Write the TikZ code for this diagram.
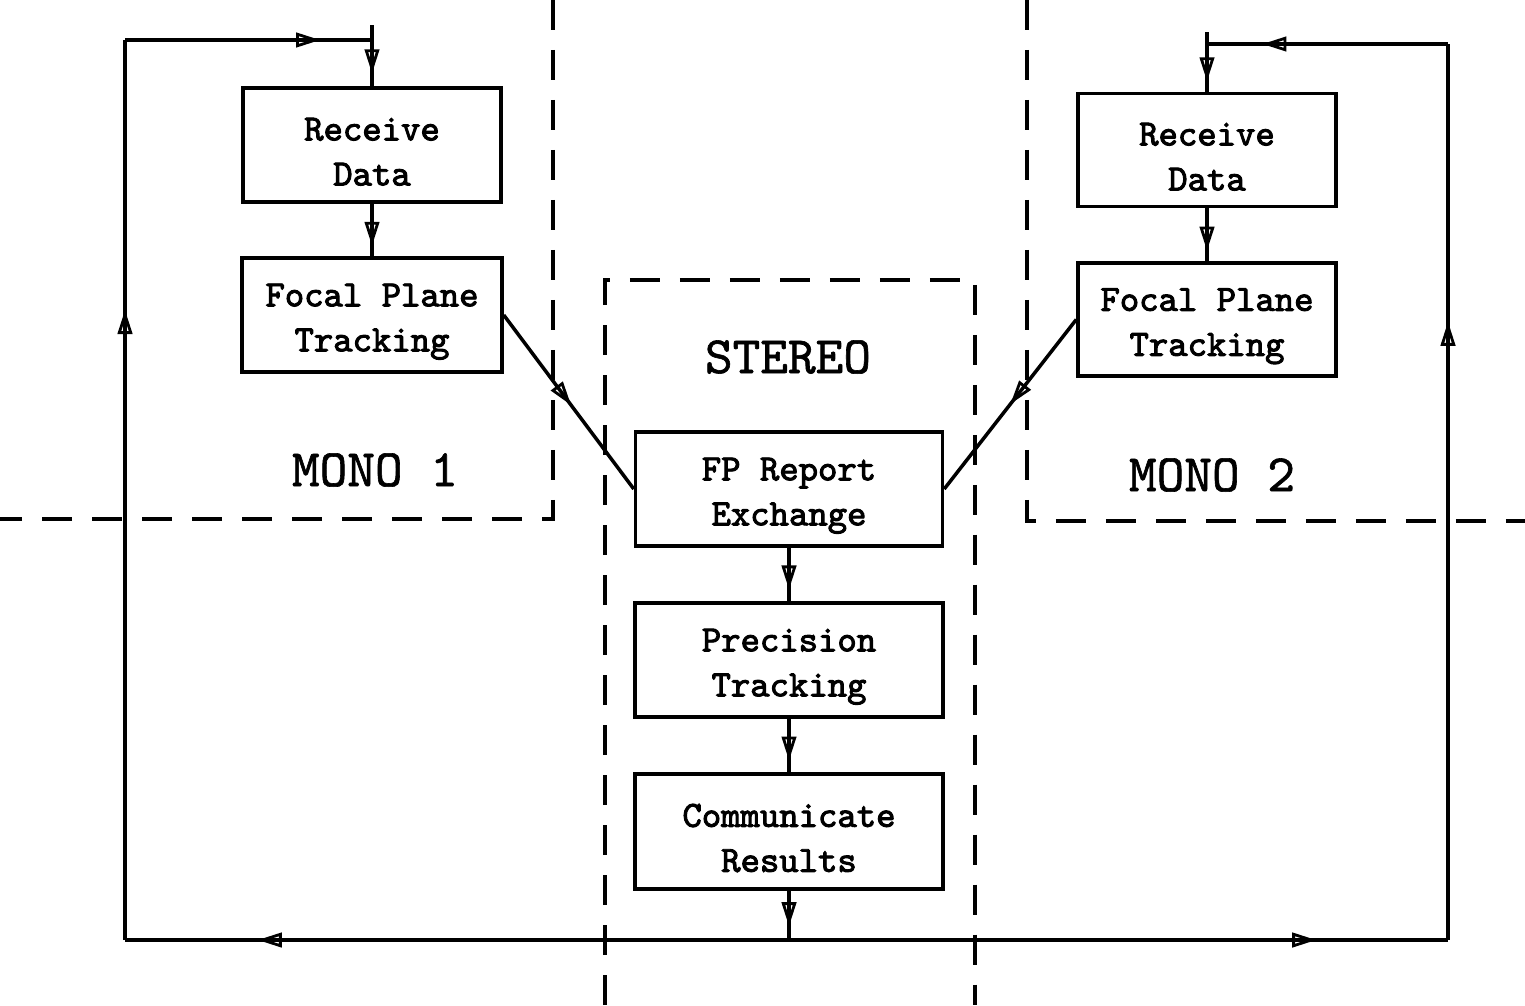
\documentclass[tikz,border=0pt]{standalone}
\usepackage{fontspec}
\newfontfamily\boxfont{lmmono10-regular.otf}[FakeBold=2.6]
\newfontfamily\labelfont{lmmono10-regular.otf}[FakeBold=1.2]
\usetikzlibrary{arrows.meta,decorations.markings}
\tikzset{
  oarr/.tip={Triangle[open,length=0.48cm,width=0.29cm,line width=1.6pt]},
  midarr/.style={postaction={decorate},decoration={markings,mark=at position #1 with {\arrow{oarr}}}},
  flow/.style={line width=2pt},
  procbox/.style={draw,line width=2pt,align=center,inner sep=0pt,
    font=\fontsize{21}{25.6}\selectfont\boxfont},
  region/.style={line width=2pt,dash pattern=on 0.6cm off 0.4cm},
  regionlabel/.style={font=\fontsize{30}{34}\selectfont\labelfont},
}
\newcommand{\tstrut}{\rule{0pt}{0.72cm}}
\begin{document}
\begin{tikzpicture}[x=0.02cm,y=-0.02cm]
\useasboundingbox (0,0) rectangle (1525,1005);
% region boundaries
\draw[region] (553,0) -- (553,519) -- (0,519);
\draw[region] (1027,0) -- (1027,521) -- (1525,521);
\draw[region] (605,1005) -- (605,280) -- (975,280) -- (975,1005);
% labels
\node[regionlabel] (stereo) at (788,357) {STEREO};
\node[regionlabel] (mono1) at (375,470) {MONO 1};
\node[regionlabel] (mono2) at (1212,475) {MONO 2};
% boxes
\node[procbox,minimum width=5.16cm,minimum height=2.28cm] (lrd) at (372,145) {\tstrut Receive\\Data};
\node[procbox,minimum width=5.20cm,minimum height=2.28cm] (lfp) at (372,315) {\tstrut Focal Plane\\Tracking};
\node[procbox,minimum width=5.16cm,minimum height=2.26cm] (rrd) at (1207,150) {\tstrut Receive\\Data};
\node[procbox,minimum width=5.16cm,minimum height=2.26cm] (rfp) at (1207,319.5) {\tstrut Focal Plane\\Tracking};
\node[procbox,minimum width=6.14cm,minimum height=2.28cm] (fpr) at (789,489) {\tstrut FP Report\\Exchange};
\node[procbox,minimum width=6.16cm,minimum height=2.28cm] (pre) at (789,660) {\tstrut Precision\\Tracking};
\node[procbox,minimum width=6.16cm,minimum height=2.30cm] (com) at (789,831.5) {\tstrut Communicate\\Results};
% loop coordinates
\coordinate (bmid) at (789,940);
\coordinate (bl) at (125,940);
\coordinate (tl) at (125,40);
\coordinate (tlj) at (372,40);
\coordinate (tlt) at (372,25);
\coordinate (br) at (1448,940);
\coordinate (tr) at (1448,44);
\coordinate (trj) at (1207,44);
\coordinate (trt) at (1207,32);
% connectors
\draw[flow,midarr=0.8] (lrd.south) -- (lfp.north);
\draw[flow,midarr=0.8] (rrd.south) -- (rfp.north);
\draw[flow,midarr=0.52] (lfp.east) -- (fpr.west);
\draw[flow,midarr=0.5] (rfp.west) -- (fpr.east);
\draw[flow,midarr=0.78] (fpr.south) -- (pre.north);
\draw[flow,midarr=0.78] (pre.south) -- (com.north);
\draw[flow,midarr=0.72] (com.south) -- (bmid);
\draw[flow,midarr=0.8] (bmid) -- (bl);
\draw[flow,midarr=0.7] (bl) -- (tl);
\draw[flow,midarr=0.79] (tl) -- (tlj);
\draw[flow] (tlt) -- (tlj);
\draw[flow,midarr=0.72] (tlj) -- (lrd.north);
\draw[flow,midarr=0.8] (bmid) -- (br);
\draw[flow,midarr=0.69] (br) -- (tr);
\draw[flow,midarr=0.77] (tr) -- (trj);
\draw[flow] (trt) -- (trj);
\draw[flow,midarr=0.78] (trj) -- (rrd.north);
\end{tikzpicture}
\end{document}
